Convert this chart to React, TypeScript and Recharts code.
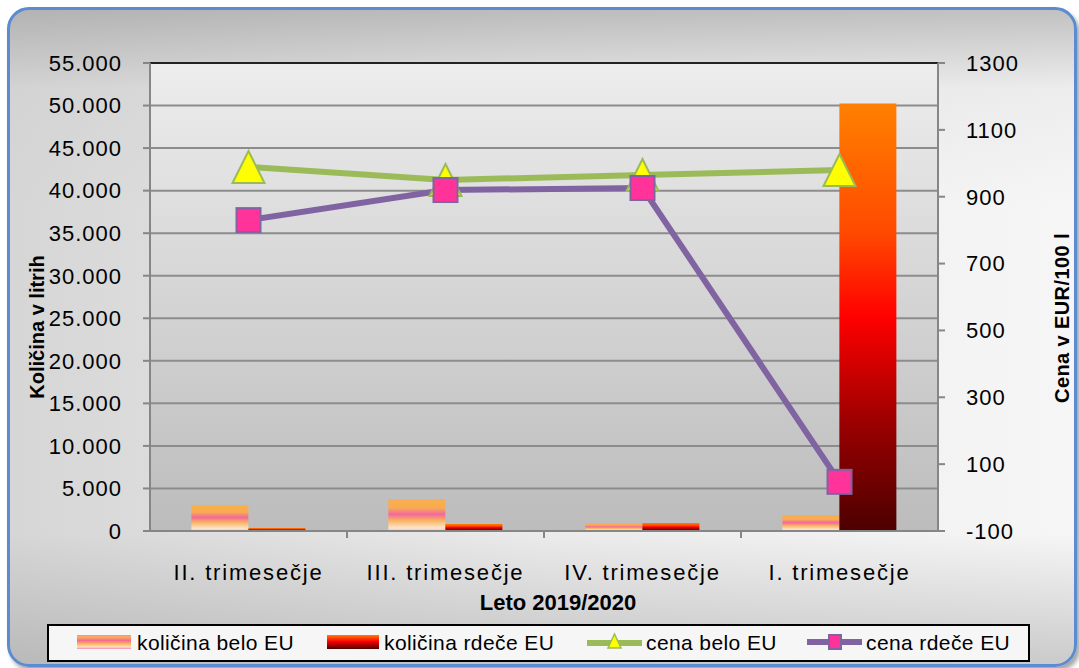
import {
  Bar,
  CartesianGrid,
  ComposedChart,
  Line,
  ReferenceLine,
  XAxis,
  YAxis,
} from "recharts";

const categories = ["II. trimesečje", "III. trimesečje", "IV. trimesečje", "I. trimesečje"];
const kolicinaBelo = [3050, 3750, 940, 1880];
const kolicinaRdece = [350, 820, 940, 50250];
const cenaBelo = [989, 950, 965, 980];
const cenaRdece = [830, 920, 926, 47];

const leftTicks = [0, 5000, 10000, 15000, 20000, 25000, 30000, 35000, 40000, 45000, 50000, 55000];
const rightTicks = [-100, 100, 300, 500, 700, 900, 1100, 1300];

const data = categories.map((name, i) => ({
  name,
  kolicinaBelo: kolicinaBelo[i],
  kolicinaRdece: kolicinaRdece[i],
  cenaBelo: cenaBelo[i],
  cenaRdece: cenaRdece[i],
}));

const FONT = "'Liberation Sans', Arial, sans-serif";
const PLOT_LEFT = 150;
const PLOT_RIGHT = 938;
const PLOT_BOTTOM = 531;
const BAND = (PLOT_RIGHT - PLOT_LEFT) / categories.length;

const fmt = (v: number) => (v === 0 ? "0" : v.toLocaleString("de-DE"));

const Triangle = (props: any) => {
  const { cx, cy } = props;
  if (cx == null || cy == null) return null;
  return (
    <polygon
      points={`${cx},${cy - 16} ${cx - 16},${cy + 16} ${cx + 16},${cy + 16}`}
      fill="#ffff00"
      stroke="#9bbb59"
      strokeWidth={2}
    />
  );
};

const Square = (props: any) => {
  const { cx, cy } = props;
  if (cx == null || cy == null) return null;
  return (
    <rect x={cx - 12} y={cy - 12} width={24} height={24} fill="#ff3399" stroke="#8064a2" strokeWidth={2} />
  );
};

const XTick = (props: any) => {
  const { x, payload, index } = props;
  return (
    <g>
      {index < categories.length - 1 && (
        <line
          x1={x + BAND / 2}
          x2={x + BAND / 2}
          y1={PLOT_BOTTOM}
          y2={PLOT_BOTTOM + 7}
          stroke="#868686"
          strokeWidth={2}
        />
      )}
      <text
        x={x}
        y={580}
        textAnchor="middle"
        fontSize={22}
        fontFamily={FONT}
        letterSpacing={1.8}
        fill="#000"
      >
        {payload.value}
      </text>
    </g>
  );
};

const legendItems = [
  { label: "količina belo EU", kind: "belo", icon: 77, text: 137 },
  { label: "količina rdeče EU", kind: "rdece", icon: 327, text: 384 },
  { label: "cena belo EU", kind: "lineBelo", icon: 587, text: 646 },
  { label: "cena rdeče EU", kind: "lineRdece", icon: 807, text: 866 },
];

const LegendIcon = ({ kind }: { kind: string }) => (
  <svg width={55} height={20} style={{ position: "absolute", left: 0, top: 0 }}>
    <defs>
      <linearGradient id={`lg-belo`} x1="0" y1="0" x2="0" y2="1">
        <stop offset="0%" stopColor="#f38bb8" />
        <stop offset="15%" stopColor="#f9b04a" />
        <stop offset="40%" stopColor="#f4699b" />
        <stop offset="60%" stopColor="#f9b050" />
        <stop offset="85%" stopColor="#fde0c0" />
        <stop offset="100%" stopColor="#f38bb8" />
      </linearGradient>
      <linearGradient id={`lg-rdece`} x1="0" y1="0" x2="0" y2="1">
        <stop offset="0%" stopColor="#ff8000" />
        <stop offset="45%" stopColor="#ff0000" />
        <stop offset="100%" stopColor="#4c0000" />
      </linearGradient>
    </defs>
    {kind === "belo" && <rect x={0} y={3} width={54} height={14} fill="url(#lg-belo)" />}
    {kind === "rdece" && <rect x={0} y={3} width={52} height={14} fill="url(#lg-rdece)" />}
    {kind === "lineBelo" && (
      <g>
        <line x1={1} x2={54} y1={11} y2={11} stroke="#9bbb59" strokeWidth={6} strokeLinecap="round" />
        <polygon points="27.5,2 21,16 34,16" fill="#ffff00" stroke="#9bbb59" strokeWidth={1.5} />
      </g>
    )}
    {kind === "lineRdece" && (
      <g>
        <line x1={1} x2={54} y1={10} y2={10} stroke="#8064a2" strokeWidth={6} strokeLinecap="round" />
        <rect x={22} y={3} width={12} height={14} fill="#ff3399" stroke="#8064a2" strokeWidth={2} />
      </g>
    )}
  </svg>
);

export default function App() {
  return (
    <div style={{ position: "absolute", left: 0, top: 0, width: 1079, height: 668, fontFamily: FONT }}>
      <div
        style={{
          position: "absolute",
          left: 7,
          top: 7,
          width: 1064,
          height: 654,
          borderRadius: 22,
          border: "3px solid #5b8bd0",
          boxShadow: "3px 4px 4px rgba(0,0,0,0.35)",
          background:
            "linear-gradient(to bottom, rgba(150,150,150,0.55) 0%, rgba(200,200,200,0.2) 12%, rgba(255,255,255,0) 30%, rgba(255,255,255,0) 80%, rgba(150,150,150,0.45) 100%), linear-gradient(to right, #d6d6d6 0%, #ebebeb 50%, #f6f6f6 100%)",
        }}
      />
      <div style={{ position: "absolute", left: 0, top: 0 }}>
        <ComposedChart
          width={1079}
          height={668}
          data={data}
          margin={{ top: 63, right: 0, bottom: 0, left: 0 }}
          barCategoryGap="21%"
          barGap={0}
        >
          <defs>
            <linearGradient id="plotBg" x1="0" y1="0" x2="0" y2="1">
              <stop offset="0%" stopColor="#ededed" />
              <stop offset="100%" stopColor="#bcbcbc" />
            </linearGradient>
            <linearGradient id="beloFill" x1="0" y1="0" x2="0" y2="1">
              <stop offset="0%" stopColor="#f49ac1" />
              <stop offset="5%" stopColor="#f8b048" />
              <stop offset="28%" stopColor="#f8aa55" />
              <stop offset="48%" stopColor="#f4699b" />
              <stop offset="66%" stopColor="#f9b060" />
              <stop offset="90%" stopColor="#fde4c8" />
              <stop offset="95%" stopColor="#fbd4cc" />
              <stop offset="100%" stopColor="#f49ac1" />
            </linearGradient>
            <linearGradient id="rdeceFill" x1="0" y1="0" x2="0" y2="1">
              <stop offset="0%" stopColor="#ff8000" />
              <stop offset="30%" stopColor="#ff4a00" />
              <stop offset="50%" stopColor="#ff0000" />
              <stop offset="75%" stopColor="#9a0000" />
              <stop offset="100%" stopColor="#4c0000" />
            </linearGradient>
          </defs>
          <CartesianGrid
            vertical={false}
            stroke="#8c8c8c"
            strokeWidth={2}
            fill="url(#plotBg)"
            fillOpacity={1}
            yAxisId="left"
          />
          <XAxis
            dataKey="name"
            height={668 - PLOT_BOTTOM}
            tickLine={false}
            axisLine={{ stroke: "#868686", strokeWidth: 2 }}
            tick={<XTick />}
            interval={0}
          />
          <YAxis
            yAxisId="left"
            width={PLOT_LEFT}
            domain={[0, 55000]}
            ticks={leftTicks}
            tickFormatter={fmt}
            tickSize={7}
            tickMargin={21}
            tickLine={{ stroke: "#868686", strokeWidth: 2 }}
            axisLine={{ stroke: "#868686", strokeWidth: 2 }}
            tick={{ fontSize: 22, fill: "#000", fontFamily: FONT, letterSpacing: 1 }}
            interval={0}
          />
          <YAxis
            yAxisId="right"
            orientation="right"
            width={1079 - PLOT_RIGHT}
            domain={[-100, 1300]}
            ticks={rightTicks}
            tickSize={7}
            tickMargin={21}
            tickLine={{ stroke: "#868686", strokeWidth: 2 }}
            axisLine={{ stroke: "#868686", strokeWidth: 2 }}
            tick={{ fontSize: 22, fill: "#000", fontFamily: FONT, textAnchor: "start", letterSpacing: 1 }}
            interval={0}
          />
          <ReferenceLine yAxisId="left" y={55000} stroke="#222" strokeWidth={2} />
          <Bar yAxisId="left" dataKey="kolicinaBelo" fill="url(#beloFill)" isAnimationActive={false} />
          <Bar yAxisId="left" dataKey="kolicinaRdece" fill="url(#rdeceFill)" isAnimationActive={false} />
          <Line
            yAxisId="right"
            dataKey="cenaBelo"
            stroke="#9bbb59"
            strokeWidth={6}
            dot={<Triangle />}
            activeDot={false}
            isAnimationActive={false}
          />
          <Line
            yAxisId="right"
            dataKey="cenaRdece"
            stroke="#8064a2"
            strokeWidth={6}
            dot={<Square />}
            activeDot={false}
            isAnimationActive={false}
          />
        </ComposedChart>
      </div>

      <div
        style={{
          position: "absolute",
          left: 37,
          top: 327,
          transform: "translate(-50%, -50%) rotate(-90deg)",
          fontWeight: "bold",
          fontSize: 20,
          whiteSpace: "nowrap",
        }}
      >
        Količina v litrih
      </div>
      <div
        style={{
          position: "absolute",
          left: 1062,
          top: 318,
          transform: "translate(-50%, -50%) rotate(-90deg)",
          fontWeight: "bold",
          fontSize: 20,
          whiteSpace: "nowrap",
          letterSpacing: 0.4,
        }}
      >
        Cena v EUR/100 l
      </div>
      <div
        style={{
          position: "absolute",
          left: 558,
          top: 603,
          transform: "translate(-50%, -50%)",
          fontWeight: "bold",
          fontSize: 22,
          whiteSpace: "nowrap",
        }}
      >
        Leto 2019/2020
      </div>

      <div
        style={{
          position: "absolute",
          left: 47,
          top: 624,
          width: 1030 - 47,
          height: 38,
          boxSizing: "border-box",
          border: "2px solid #000",
          background: "#f6f6f6",
        }}
      />
      {legendItems.map((item) => (
        <div key={item.label}>
          <div style={{ position: "absolute", left: item.icon, top: 632, width: 55, height: 20 }}>
            <LegendIcon kind={item.kind} />
          </div>
          <div
            style={{
              position: "absolute",
              left: item.text,
              top: 630,
              fontSize: 21,
              lineHeight: "26px",
              whiteSpace: "nowrap",
              letterSpacing: 0.4,
            }}
          >
            {item.label}
          </div>
        </div>
      ))}
    </div>
  );
}
